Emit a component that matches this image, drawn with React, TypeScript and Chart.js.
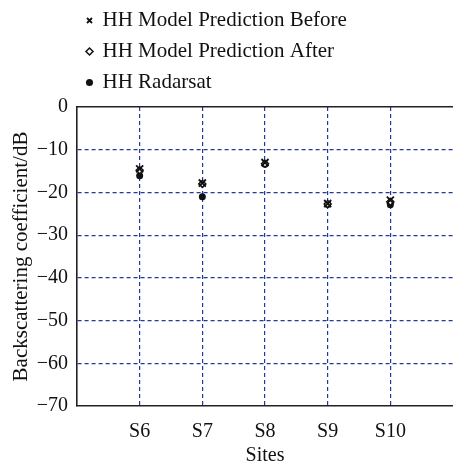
import React, { useEffect, useRef } from "react";
import { Chart, registerables } from "chart.js";

Chart.register(...registerables);

// Sites along the x axis and the backscattering coefficients (dB) at each site
const sites = ["S6", "S7", "S8", "S9", "S10"];
const predictionBefore = [-14.5, -17.8, -13.0, -22.6, -21.8];
const predictionAfter = [-14.8, -18.0, -13.3, -22.7, -22.2];
const radarsat = [-16.1, -21.0, -13.4, -22.8, -22.9];
const yTicks = [0, -10, -20, -30, -40, -50, -60, -70];

const FONT = "'Liberation Serif', 'Times New Roman', serif";
const INK = "#111";
const GRID_BLUE = "#22389a";

const toPoints = (values: number[]) => values.map((v, i) => ({ x: i + 1, y: v }));

export default function App() {
  const canvasRef = useRef<HTMLCanvasElement | null>(null);

  useEffect(() => {
    const canvas = canvasRef.current;
    if (!canvas) return;

    const chart = new Chart(canvas, {
      type: "scatter",
      data: {
        datasets: [
          {
            label: "HH Model Prediction Before",
            data: toPoints(predictionBefore),
            pointStyle: "crossRot",
            pointRadius: 5,
            borderColor: INK,
            backgroundColor: INK,
            borderWidth: 1.8,
          },
          {
            label: "HH Model Prediction After",
            data: toPoints(predictionAfter),
            pointStyle: "rectRot",
            pointRadius: 3.5,
            borderColor: INK,
            backgroundColor: "#ffffff",
            borderWidth: 1.5,
          },
          {
            label: "HH Radarsat",
            data: toPoints(radarsat),
            pointStyle: "circle",
            pointRadius: 3.5,
            borderColor: INK,
            backgroundColor: INK,
            borderWidth: 0,
          },
        ],
      },
      options: {
        responsive: false,
        animation: false,
        layout: { padding: 0, autoPadding: false },
        plugins: {
          tooltip: { enabled: false },
          legend: {
            position: "top",
            align: "start",
            fullSize: false,
            labels: {
              usePointStyle: true,
              boxHeight: 5,
              boxWidth: 5,
              padding: 10,
              color: INK,
              font: { family: FONT, size: 21 },
            },
          },
        },
        scales: {
          x: {
            type: "linear",
            position: "bottom",
            min: 0,
            max: 6,
            afterBuildTicks: (scale: any) => {
              scale.ticks = [0, 1, 2, 3, 4, 5, 6].map((v) => ({ value: v }));
            },
            afterFit: (scale: any) => {
              scale.height = 60;
              scale.paddingLeft = 0;
              scale.paddingRight = 0;
            },
            ticks: {
              color: INK,
              font: { family: FONT, size: 20 },
              padding: 14,
              maxRotation: 0,
              autoSkip: false,
              callback: (v: any) => sites[Number(v) - 1] ?? "",
            },
            grid: {
              drawTicks: false,
              lineWidth: 1.2,
              color: (ctx: any) =>
                ctx.tick && ctx.tick.value > 0 && ctx.tick.value < 6 ? GRID_BLUE : "rgba(0,0,0,0)",
            },
            border: { display: true, color: "#222", width: 1.6, dash: [4, 3] },
            title: {
              display: true,
              text: "Sites",
              color: INK,
              font: { family: FONT, size: 20, lineHeight: 1.0 },
              padding: { top: 0, bottom: 0 },
            },
          },
          x2: {
            type: "linear",
            position: "top",
            min: 0,
            max: 6,
            grid: { display: false },
            ticks: { display: false },
            border: { display: true, color: "#222", width: 1.6 },
            afterFit: (scale: any) => {
              scale.height = 4;
              scale.paddingLeft = 0;
              scale.paddingRight = 0;
            },
          },
          y: {
            type: "linear",
            min: -70,
            max: 0,
            afterBuildTicks: (scale: any) => {
              scale.ticks = yTicks.map((v) => ({ value: v }));
            },
            afterFit: (scale: any) => {
              scale.width = 77;
              scale.paddingTop = 0;
              scale.paddingBottom = 0;
            },
            ticks: {
              color: INK,
              font: { family: FONT, size: 20 },
              padding: 9,
              callback: (v: any) => String(v).replace("-", "\u2212"),
            },
            grid: {
              drawTicks: false,
              lineWidth: 1.2,
              color: (ctx: any) =>
                ctx.tick && ctx.tick.value < 0 && ctx.tick.value > -70 ? GRID_BLUE : "rgba(0,0,0,0)",
            },
            border: { display: true, color: "#222", width: 1.6, dash: [4, 3] },
            title: {
              display: true,
              text: "Backscattering coefficient/dB",
              color: INK,
              font: { family: FONT, size: 21 },
              padding: { top: 9, bottom: 0 },
            },
          },
        },
      },
    } as any);

    return () => chart.destroy();
  }, []);

  return (
    <div style={{ position: "absolute", left: 0, top: 0, width: 453, height: 466, background: "#fff" }}>
      <canvas ref={canvasRef} width={453} height={466} />
    </div>
  );
}
